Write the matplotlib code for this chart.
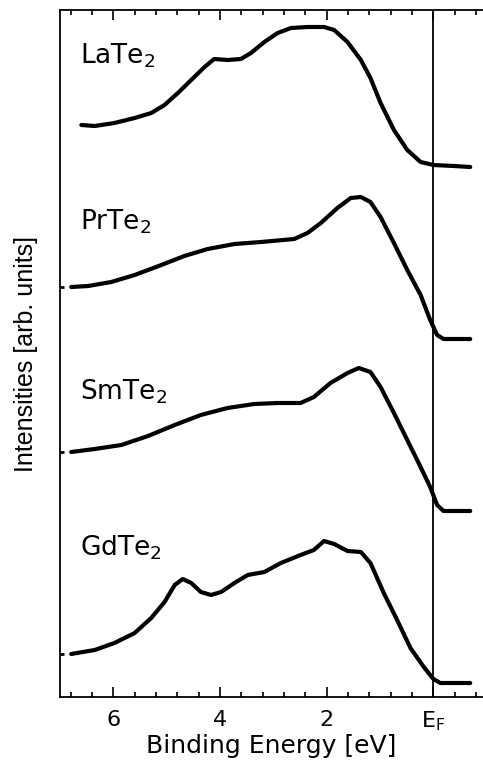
import matplotlib.pyplot as plt
import numpy as np
from matplotlib.ticker import FixedLocator

plt.rcParams['font.family'] = ['DejaVu Sans']

# Binding energy (eV) and intensities (arb. units)
E_La = [6.60, 6.35, 5.98, 5.60, 5.29, 5.04, 4.79, 4.54, 4.29, 4.11, 3.86, 3.61, 3.42, 3.17, 2.92, 2.67,
        2.36, 2.05, 1.86, 1.61, 1.36, 1.18, 0.99, 0.74, 0.49, 0.24, 0.0, -0.38, -0.69]
I_La = [572, 571, 574, 579, 584, 592, 604, 617, 630, 638, 637, 638, 644, 655, 664, 669,
        670, 670, 667, 655, 637, 619, 594, 567, 547, 535, 532, 531, 530]

E_Pr = [6.79, 6.47, 6.04, 5.60, 5.10, 4.67, 4.23, 3.73, 3.23, 2.61, 2.36, 2.11, 1.80, 1.55, 1.36,
        1.18, 0.99, 0.74, 0.49, 0.24, 0.06, -0.07, -0.19, -0.69]
I_Pr = [410, 411, 415, 422, 432, 441, 448, 453, 455, 458, 464, 474, 489, 499, 500,
        495, 480, 454, 427, 402, 377, 362, 358, 358]

E_Sm = [6.79, 6.35, 5.85, 5.35, 4.85, 4.36, 3.86, 3.36, 2.92, 2.49, 2.24, 1.93, 1.61, 1.40,
        1.18, 0.99, 0.74, 0.49, 0.24, 0.06, -0.07, -0.19, -0.69]
I_Sm = [245, 248, 252, 261, 272, 282, 289, 293, 294, 294, 300, 314, 324, 329,
        325, 310, 284, 257, 230, 210, 192, 186, 186]

E_Gd = [6.79, 6.35, 5.98, 5.60, 5.29, 5.04, 4.85, 4.70, 4.54, 4.36, 4.17, 3.98, 3.73, 3.48, 3.17,
        2.86, 2.49, 2.24, 2.05, 1.86, 1.61, 1.36, 1.18, 0.93, 0.68, 0.43, 0.18, 0.0, -0.13, -0.69]
I_Gd = [43, 47, 54, 64, 79, 95, 112, 118, 114, 105, 102, 105, 114, 122, 125,
        134, 142, 147, 156, 153, 146, 145, 134, 104, 77, 49, 30, 18, 14, 14]

names = ['LaTe$_2$', 'PrTe$_2$', 'SmTe$_2$', 'GdTe$_2$']
label_y = [634, 467, 297, 142]
baselines = [410, 245, 43]

fig = plt.figure(figsize=(4.83, 7.65), dpi=100)
ax = fig.add_axes([60 / 483, 68 / 765, 1 - 60 / 483, 687 / 765])

for E, I in [(E_La, I_La), (E_Pr, I_Pr), (E_Sm, I_Sm), (E_Gd, I_Gd)]:
    ax.plot(E, I, color='black', lw=3.0, solid_capstyle='round', solid_joinstyle='round')

for name, y in zip(names, label_y):
    ax.text(6.62, y, name, fontsize=19, va='baseline', ha='left')

ax.axvline(0, color='black', lw=1.3)

ax.set_xlim(7.0, -0.93)
ax.set_ylim(0, 687)

ax.xaxis.set_major_locator(FixedLocator([6, 4, 2, 0]))
ax.set_xticklabels(['6', '4', '2', r'E$_\mathrm{F}$'])
ax.xaxis.set_minor_locator(FixedLocator(np.arange(6.8, -1.0, -0.4)))
ax.tick_params(axis='x', which='both', direction='in', top=True, width=1.2, labelsize=16, pad=9)
ax.tick_params(axis='x', which='major', length=7)
ax.tick_params(axis='x', which='minor', length=3.5)

ax.yaxis.set_major_locator(FixedLocator(baselines))
ax.set_yticklabels([])
ax.tick_params(axis='y', direction='in', length=3, width=2)

for s in ['left', 'bottom', 'top']:
    ax.spines[s].set_linewidth(1.3)
ax.spines['right'].set_visible(False)

ax.set_xlabel('Binding Energy [eV]', fontsize=18, labelpad=1)
ax.set_ylabel('Intensities [arb. units]', fontsize=18, labelpad=12,
              family='Liberation Sans')

fig.savefig('out.png', dpi=100)
